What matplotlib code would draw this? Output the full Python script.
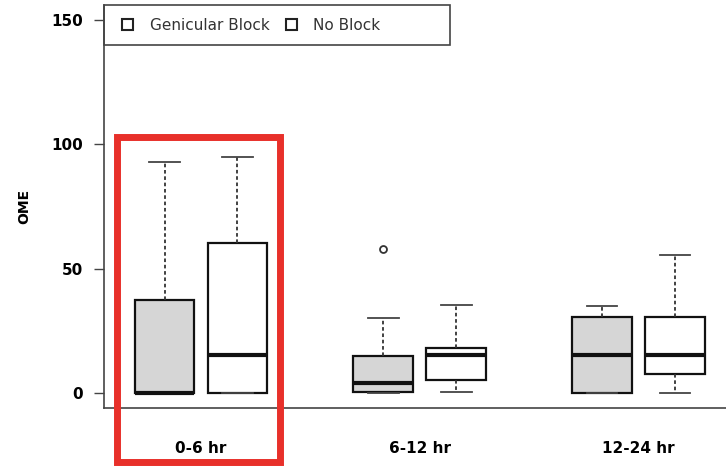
import matplotlib.pyplot as plt
from matplotlib.patches import Rectangle, Patch

plt.rcParams['font.family'] = ['DejaVu Sans']

# box statistics (OME)
groups = ['0-6 hr', '6-12 hr', '12-24 hr']
series = ['Genicular Block', 'No Block']
colors = ['#d6d6d6', 'white']

whislo = [[0, 0, 0], [0, 0.3, 0]]
q1 = [[0, 0.4, 0], [0, 5.3, 7.6]]
med = [[0, 4.2, 15.2], [15.5, 15.2, 15.2]]
q3 = [[37.5, 14.8, 30.5], [60.5, 18, 30.5]]
whishi = [[93, 30, 35], [95, 35.3, 55.4]]
fliers = [[[], [57.8], []], [[], [], []]]

positions = [[1, 4, 7], [2, 5, 8]]

fig = plt.figure(figsize=(7.26, 4.67), dpi=100)
ax = fig.add_axes([104 / 726, 59 / 467, 1 - 104 / 726, 403 / 467])

for s in range(2):
    stats = []
    for g in range(3):
        stats.append(dict(whislo=whislo[s][g], q1=q1[s][g], med=med[s][g],
                          q3=q3[s][g], whishi=whishi[s][g], fliers=fliers[s][g]))
    ax.bxp(stats, positions=positions[s], widths=0.82, patch_artist=True,
           boxprops=dict(facecolor=colors[s], edgecolor='#111111', linewidth=1.6),
           medianprops=dict(color='#111111', linewidth=3),
           whiskerprops=dict(color='#333333', linewidth=1.3, linestyle=(0, (2, 1.5))),
           capprops=dict(color='#444444', linewidth=1.3),
           flierprops=dict(marker='o', markerfacecolor='white', markeredgecolor='#333333',
                           markersize=5, markeredgewidth=1.3),
           capwidths=0.42)

ax.set_xlim(0.17, 8.7)
ax.set_ylim(-6, 156)
ax.spines['top'].set_visible(False)
ax.spines['right'].set_visible(False)
ax.spines['left'].set_color('#444444')
ax.spines['bottom'].set_color('#444444')
ax.spines['left'].set_linewidth(1.2)
ax.spines['bottom'].set_linewidth(1.2)

ax.set_yticks([0, 50, 100, 150])
ax.tick_params(axis='y', length=7, width=1, color='#444444', labelsize=11, pad=8)
for t in ax.get_yticklabels():
    t.set_fontweight('bold')
ax.set_xticks([1.5, 4.5, 7.5])
ax.set_xticklabels(groups, fontsize=11, fontweight='bold')
ax.tick_params(axis='x', length=0, pad=24)
ax.set_ylabel('OME', fontsize=10, fontweight='bold')
ax.yaxis.set_label_coords(-(104 - 31) / 622, 0.5)

# legend: box spans from the y axis to x=450 px, y from 5 to 45 px
handles = [Patch(facecolor='white', edgecolor='#222222', linewidth=1.5) for _ in series]
leg = ax.legend(handles, series, ncol=2, loc='center left',
                bbox_to_anchor=(18 / 622, (408 - 25) / 403), frameon=False,
                borderaxespad=0, borderpad=0, handlelength=0.72, handleheight=0.72,
                handletextpad=1.1, columnspacing=1.05, fontsize=11)
for t in leg.get_texts():
    t.set_color('#333333')
ax.add_patch(Rectangle((0, (408 - 45) / 403), (450 - 104) / 622, 40 / 403,
                       transform=ax.transAxes, fill=False, edgecolor='#444444',
                       linewidth=1.2, clip_on=False))

# red highlight around the first group
fig.patches.append(Rectangle((116.5 / 726, 5.5 / 467), 163 / 726, 325 / 467,
                             transform=fig.transFigure, fill=False,
                             edgecolor='#e8302a', linewidth=5))

fig.savefig('out.png', dpi=100)
